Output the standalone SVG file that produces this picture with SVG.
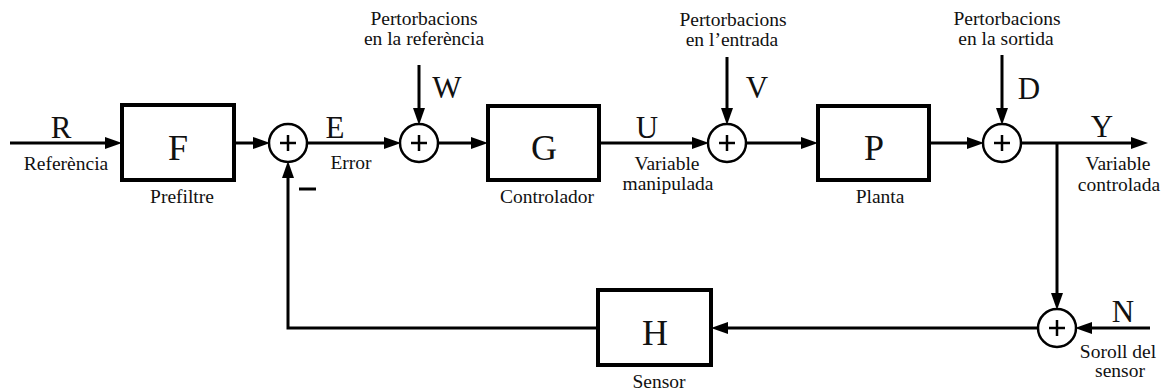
<svg xmlns="http://www.w3.org/2000/svg" width="1164" height="392" viewBox="0 0 1164 392">
<style>
.bg{fill:#fff}
.blk{fill:#fff;stroke:#000;stroke-width:4}
.sum{fill:#fff;stroke:#000;stroke-width:2.5}
.plus{stroke:#000;stroke-width:2.5;fill:none}
.ln{stroke:#000;stroke-width:3;fill:none}
.ar{stroke:#000;stroke-width:3;fill:none;marker-end:url(#ah)}
text{font-family:"Liberation Serif","Times New Roman",serif;fill:#111}
.big{font-size:31px;text-anchor:middle}
.box{font-size:36px;text-anchor:middle}
.lbl{font-size:19.5px;text-anchor:middle}
</style>
<defs>
<marker id="ah" markerUnits="userSpaceOnUse" markerWidth="18" markerHeight="14" refX="8" refY="6.5" orient="auto" overflow="visible">
<path d="M0,0.5 L17,6.5 L0,12.5 Z" fill="#000"/>
</marker>
</defs>
<rect class="bg" x="0" y="0" width="1164" height="392"/>
<g id="connectors">
<path class="ar" d="M10,143 H113"/>
<path class="ar" d="M234,143 H261"/>
<path class="ar" d="M307,143 H392"/>
<path class="ar" d="M419,65 V116"/>
<path class="ar" d="M438,143 H479"/>
<path class="ar" d="M599,143 H700"/>
<path class="ar" d="M727,57 V116"/>
<path class="ar" d="M746,143 H809"/>
<path class="ar" d="M929,143 H975"/>
<path class="ar" d="M1002,55 V116"/>
<path class="ar" d="M1021,143 H1139"/>
<path class="ar" d="M1057,143 V301"/>
<path class="ar" d="M1150,328 H1084"/>
<path class="ar" d="M1038,328 H720"/>
<path class="ar" d="M598,328 H288 V170"/>
<line class="ln" x1="299" y1="189" x2="316" y2="189"/>
</g>
<g id="F"><rect class="blk" x="122" y="105" width="112" height="75"/><text class="box" x="178" y="160">F</text><text class="lbl" x="182" y="203">Prefiltre</text></g>
<g id="G"><rect class="blk" x="488" y="106" width="111" height="74"/><text class="box" x="544" y="160">G</text><text class="lbl" x="547" y="203">Controlador</text></g>
<g id="P"><rect class="blk" x="818" y="106" width="111" height="74"/><text class="box" x="874" y="160">P</text><text class="lbl" x="880" y="203">Planta</text></g>
<g id="H"><rect class="blk" x="598" y="290" width="113" height="75"/><text class="box" x="655" y="345">H</text><text class="lbl" x="659" y="388">Sensor</text></g>
<g id="sum1"><circle class="sum" cx="288" cy="143" r="19"/><path class="plus" d="M280,143 H296 M288,135 V151"/></g>
<g id="sum2"><circle class="sum" cx="419" cy="143" r="19"/><path class="plus" d="M411,143 H427 M419,135 V151"/></g>
<g id="sum3"><circle class="sum" cx="727" cy="143" r="19"/><path class="plus" d="M719,143 H735 M727,135 V151"/></g>
<g id="sum4"><circle class="sum" cx="1002" cy="143" r="19"/><path class="plus" d="M994,143 H1010 M1002,135 V151"/></g>
<g id="sum5"><circle class="sum" cx="1057" cy="328" r="19"/><path class="plus" d="M1049,328 H1065 M1057,320 V336"/></g>
<g id="labels">
<text class="big" x="61" y="138">R</text>
<text class="lbl" x="66" y="170">Referència</text>
<text class="big" x="335" y="138">E</text>
<text class="lbl" x="351" y="169">Error</text>
<text class="lbl" x="424" y="25">Pertorbacions</text>
<text class="lbl" x="424" y="45">en la referència</text>
<text class="big" x="447" y="98">W</text>
<text class="big" x="647" y="138">U</text>
<text class="lbl" x="667" y="170">Variable</text>
<text class="lbl" x="668" y="190">manipulada</text>
<text class="lbl" x="733" y="26">Pertorbacions</text>
<text class="lbl" x="732" y="46">en l’entrada</text>
<text class="big" x="757" y="98">V</text>
<text class="lbl" x="1007" y="25">Pertorbacions</text>
<text class="lbl" x="1006" y="45">en la sortida</text>
<text class="big" x="1029" y="99">D</text>
<text class="big" x="1102" y="137">Y</text>
<text class="lbl" x="1118" y="170">Variable</text>
<text class="lbl" x="1119" y="191">controlada</text>
<text class="big" x="1123" y="322">N</text>
<text class="lbl" x="1118" y="358">Soroll del</text>
<text class="lbl" x="1120" y="377">sensor</text>
</g>
</svg>
